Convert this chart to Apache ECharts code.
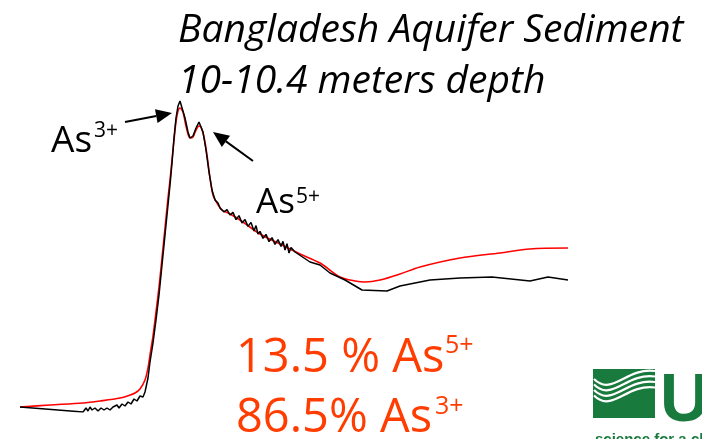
<!DOCTYPE html>
<html>
<head>
<meta charset="utf-8">
<script src="https://cdn.jsdelivr.net/npm/echarts@6/dist/echarts.min.js"></script>
<style>
html,body{margin:0;padding:0;background:#fff;}
#chart{width:702px;height:439px;}
</style>
</head>
<body>
<div id="chart"></div>
<script>
// Energy (eV) and normalized absorbance
const dataEnergy = [11850.0,11862.6,11863.2,11863.6,11864.0,11864.4,11865.0,11865.6,11866.2,11866.8,11867.4,11868.0,11868.6,11869.0,11869.4,11869.8,11870.4,11871.0,11871.6,11872.2,11872.8,11873.4,11874.0,11874.6,11875.0,11875.6,11876.0,11876.6,11877.2,11877.8,11878.4,11879.0,11879.6,11880.0,11880.4,11880.8,11881.2,11881.6,11882.0,11882.4,11883.0,11883.6,11884.0,11884.6,11885.2,11885.8,11886.2,11886.6,11887.2,11887.8,11888.4,11889.0,11889.6,11890.0,11890.4,11890.8,11891.4,11892.0,11892.6,11893.2,11893.8,11894.4,11895.0,11895.6,11896.2,11896.8,11897.2,11897.6,11898.0,11898.6,11899.2,11899.8,11900.4,11901.0,11901.6,11902.2,11902.6,11903.0,11903.4,11903.8,11904.2,11905.0,11908.0,11910.0,11912.0,11915.0,11918.4,11923.4,11926.0,11932.0,11938.0,11944.4,11952.0,11955.6,11959.6];
const dataMu = [0.025,0.000,0.020,0.005,0.025,0.010,0.020,0.005,0.020,0.010,0.020,0.010,0.025,0.015,0.035,0.020,0.040,0.030,0.050,0.040,0.065,0.055,0.080,0.075,0.100,0.170,0.250,0.345,0.460,0.585,0.735,0.885,1.035,1.135,1.245,1.370,1.470,1.530,1.555,1.545,1.470,1.400,1.370,1.380,1.420,1.450,1.445,1.400,1.310,1.200,1.110,1.060,1.045,1.020,1.030,1.000,1.012,0.985,0.998,0.962,0.982,0.945,0.962,0.928,0.948,0.905,0.932,0.890,0.903,0.868,0.888,0.852,0.872,0.838,0.862,0.828,0.853,0.810,0.842,0.795,0.822,0.800,0.750,0.735,0.695,0.660,0.610,0.605,0.630,0.660,0.670,0.675,0.655,0.675,0.660];

const fitEnergy = [11850.0,11856.0,11862.6,11866.0,11870.0,11872.0,11873.0,11874.0,11875.0,11875.6,11876.0,11876.6,11877.2,11877.8,11878.4,11879.0,11879.6,11880.0,11880.4,11880.8,11881.2,11881.6,11882.0,11882.6,11883.2,11884.0,11884.6,11885.2,11885.8,11886.2,11886.8,11887.4,11888.0,11888.6,11889.4,11890.4,11892.0,11894.0,11898.0,11902.0,11904.0,11906.0,11910.0,11914.0,11917.0,11919.0,11922.0,11926.0,11930.0,11938.0,11946.0,11952.0,11959.6];
const fitMu = [0.025,0.035,0.045,0.055,0.070,0.085,0.095,0.115,0.160,0.220,0.285,0.380,0.500,0.625,0.770,0.920,1.070,1.160,1.260,1.360,1.450,1.505,1.520,1.500,1.430,1.370,1.375,1.410,1.430,1.425,1.375,1.285,1.170,1.085,1.045,1.010,0.990,0.960,0.890,0.840,0.815,0.790,0.745,0.675,0.655,0.650,0.660,0.690,0.725,0.770,0.795,0.815,0.820];

const titleLines = ['Bangladesh Aquifer Sediment', '10-10.4 meters depth'];
const fitText = [['13.5 % As', '5+'], ['86.5% As', '3+']];

const pair = (xs, ys) => xs.map((x, i) => [x, ys[i]]);

function arrow(tail, tip, color) {
  const dx = tip[0] - tail[0], dy = tip[1] - tail[1];
  const len = Math.hypot(dx, dy);
  const ux = dx / len, uy = dy / len;
  const hl = 16, hw = 7;
  const bx = tip[0] - ux * hl, by = tip[1] - uy * hl;
  const nx = -uy, ny = ux;
  return [
    {type:'line', shape:{x1:tail[0], y1:tail[1], x2:bx, y2:by}, style:{stroke:color, lineWidth:2}},
    {type:'polygon', shape:{points:[[tip[0],tip[1]],[bx+nx*hw,by+ny*hw],[bx-nx*hw,by-ny*hw]]}, style:{fill:color}}
  ];
}

const ff = '"Open Sans", "Noto Sans", sans-serif';
const orange = '#FF3D00';
const green = '#187A3C';

function txt(x, y, s, font, color) {
  return {type:'text', x:x, y:y, style:{text:s, font:font, fill:color, verticalAlign:'middle', align:'left'}};
}

const waves = [];
for (let k = 0; k < 4; k++) {
  const o = k * 5.5;
  waves.push({type:'bezierCurve', shape:{x1:594, y1:379+o, cpx1:612, cpy1:397+o, cpx2:626, cpy2:367+o, x2:655, y2:371+o}, style:{stroke:'#fff', lineWidth:2.2, fill:null}});
}

const chart = echarts.init(document.getElementById('chart'), null, {renderer:'canvas'});
chart.setOption({
  animation:false,
  backgroundColor:'#fff',
  grid:{left:20, top:92, width:550, height:320},
  xAxis:{type:'value', min:11850, max:11960, show:false},
  yAxis:{type:'value', min:0, max:1.6, show:false},
  series:[
    {type:'line', data:pair(fitEnergy, fitMu), showSymbol:false, smooth:0.3, lineStyle:{color:'#FF0000', width:1.6}, z:2},
    {type:'line', data:pair(dataEnergy, dataMu), showSymbol:false, smooth:false, lineStyle:{color:'#000', width:1.5}, z:3}
  ],
  graphic:[
    txt(178, 30.5, titleLines[0], 'italic 39px ' + ff, '#000'),
    txt(178, 81.5, titleLines[1], 'italic 39px ' + ff, '#000'),
    txt(51, 141, 'As', '37px ' + ff, '#000'),
    txt(94, 131, '3+', '21px ' + ff, '#000'),
    txt(256, 203, 'As', '35px ' + ff, '#000'),
    txt(296, 197, '5+', '21px ' + ff, '#000'),
    ...arrow([125,122],[172,113],'#000'),
    ...arrow([253,161],[213,132],'#000'),
    txt(236, 359, fitText[0][0], '47px ' + ff, orange),
    txt(445, 346, fitText[0][1], '25px ' + ff, orange),
    txt(236, 419, fitText[1][0], '47px ' + ff, orange),
    txt(435, 407, fitText[1][1], '25px ' + ff, orange),
    {type:'rect', shape:{x:593, y:369, width:62, height:49}, style:{fill:green}},
    ...waves,
    {type:'text', x:660, y:368, style:{text:'U', font:'bold 68px "Liberation Sans", Arial, sans-serif', fill:green, verticalAlign:'top', align:'left'}},
    {type:'text', x:595, y:432, style:{text:'science for a changing world', font:'bold 15px "Liberation Sans", Arial, sans-serif', fill:green, verticalAlign:'top', align:'left'}}
  ]
});
</script>
</body>
</html>
